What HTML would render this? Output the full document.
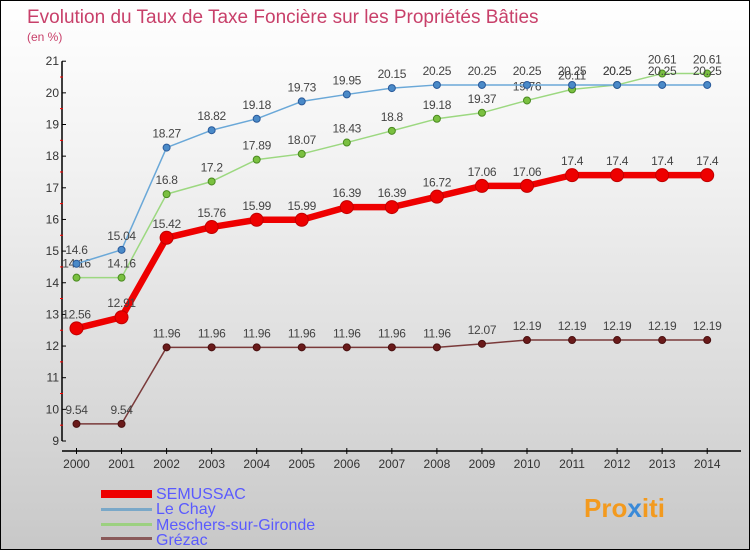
<!DOCTYPE html>
<html><head><meta charset="utf-8"><style>
body{margin:0}
#c{width:750px;height:550px;position:relative;overflow:hidden;box-sizing:border-box;border:1px solid #000;background:linear-gradient(#ffffff,#f2f2f2 30%,#d8d8d8 75%,#c8c8c8);font-family:"Liberation Sans",sans-serif}
svg text{font-family:"Liberation Sans",sans-serif}
</style></head><body>
<div id="c">
<svg id="s" width="750" height="550" xmlns="http://www.w3.org/2000/svg">
<text x="26" y="22" font-size="19" fill="#c8406a">Evolution du Taux de Taxe Foncière sur les Propriétés Bâties</text>
<text x="26" y="40" font-size="12" fill="#c8406a">(en %)</text>
<g id="axes"></g><g id="series"></g>
<g>
<rect x="100" y="489" width="51" height="8" fill="#e00"/>
<text x="155" y="498" font-size="16" fill="#5a5aff">SEMUSSAC</text>
<rect x="100" y="507" width="51" height="3" fill="#7aa8c8"/>
<text x="155" y="513" font-size="16" fill="#5a5aff">Le Chay</text>
<rect x="100" y="522" width="51" height="3" fill="#9cd080"/>
<text x="155" y="529" font-size="16" fill="#5a5aff">Meschers-sur-Gironde</text>
<rect x="100" y="536" width="51" height="3" fill="#8a5a5a"/>
<text x="155" y="544" font-size="16" fill="#5a5aff">Grézac</text>
</g>
<text x="583" y="516" font-size="26" font-weight="bold" fill="#f39a1e">Pro<tspan fill="#3a8ad8">x</tspan>iti</text>
</svg></div>
<script>
const years=[2000,2001,2002,2003,2004,2005,2006,2007,2008,2009,2010,2011,2012,2013,2014];
const yTicks=[9,10,11,12,13,14,15,16,17,18,19,20,21];
const semussac=[12.56,12.91,15.42,15.76,15.99,15.99,16.39,16.39,16.72,17.06,17.06,17.4,17.4,17.4,17.4];
const leChay=[14.6,15.04,18.27,18.82,19.18,19.73,19.95,20.15,20.25,20.25,20.25,20.25,20.25,20.25,20.25];
const meschers=[14.16,14.16,16.8,17.2,17.89,18.07,18.43,18.8,19.18,19.37,19.76,20.11,20.25,20.61,20.61];
const grezac=[9.54,9.54,11.96,11.96,11.96,11.96,11.96,11.96,11.96,12.07,12.19,12.19,12.19,12.19,12.19];
const NS='http://www.w3.org/2000/svg';
const xS=i=>75.5+i*45.05;
const yS=v=>440-(v-9)*31.65;
function mk(p,t,a){const e=document.createElementNS(NS,t);for(const k in a)e.setAttribute(k,a[k]);p.appendChild(e);return e;}
const ax=document.getElementById('axes');
const yl=mk(ax,'line',{x1:61,y1:yS(21),x2:61,y2:yS(9),stroke:'#000','stroke-width':1.5});


const xl=mk(ax,'line',{x1:61,y1:450,x2:740,y2:450,stroke:'#000','stroke-width':1.5});


yTicks.forEach(v=>{
 mk(ax,'line',{x1:61,y1:yS(v),x2:65,y2:yS(v),stroke:'#000'});
 if(v<21) mk(ax,'line',{x1:59,y1:yS(v+0.5),x2:62,y2:yS(v+0.5),stroke:'#f00'});
 const t=mk(ax,'text',{x:58,y:yS(v)+4,'font-size':12,fill:'#333','text-anchor':'end'});
 t.textContent=v;
 
 
});
years.forEach((y,i)=>{
 mk(ax,'line',{x1:xS(i),y1:447,x2:xS(i),y2:453,stroke:'#000'});
 const t=mk(ax,'text',{x:xS(i),y:467,'font-size':12,fill:'#333','text-anchor':'middle'});
 t.textContent=y;
 
 
});
const sg=document.getElementById('series');
function draw(name,vals,color,w,r,dot,stroke){
 const g=mk(sg,'g',{});
 
 
 const pts=vals.map((v,i)=>xS(i)+','+yS(v)).join(' ');
 mk(g,'polyline',{points:pts,fill:'none',stroke:color,'stroke-width':w,'stroke-linejoin':'round'});
 vals.forEach((v,i)=>{
  const c=mk(g,'circle',{cx:xS(i),cy:yS(v),r:r,fill:dot,stroke:stroke,'stroke-width':1});
  
  
  const t=mk(g,'text',{x:xS(i),y:yS(v)-10,'font-size':12,fill:'#444','text-anchor':'middle','letter-spacing':'-0.3'});
  t.textContent=v;
  
  
 });
}
draw('grezac',grezac,'#7a3a3a',1.5,3.5,'#6a1a1a','#4a1010');
draw('meschers',meschers,'#9cd880',1.5,3.5,'#7ac040','#4a8a20');
draw('le-chay',leChay,'#6aa8d8',1.5,3.5,'#4a8ac8','#2a5a9a');
draw('semussac',semussac,'#ee0000',6.5,6.5,'#ee0000','#c00000');
</script>
</body></html>
